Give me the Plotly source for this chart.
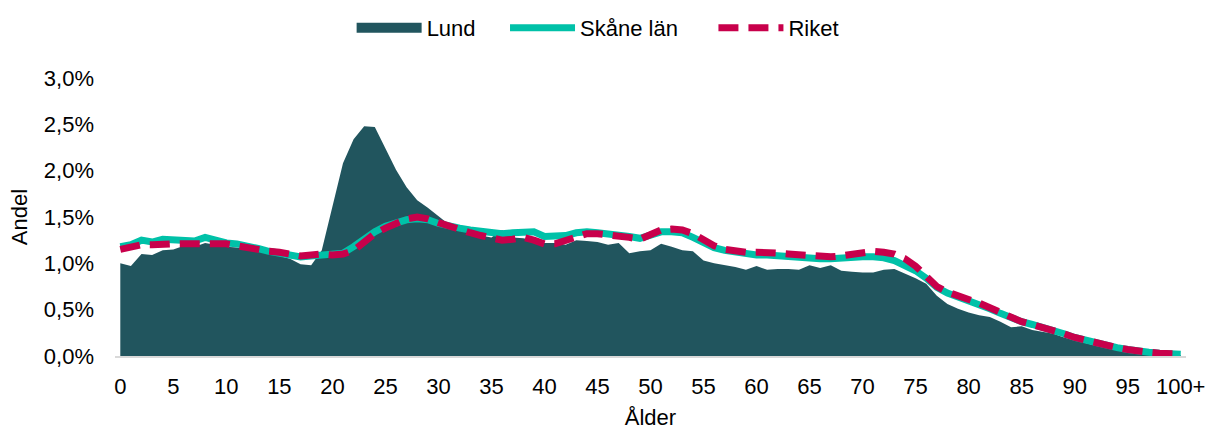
import plotly.graph_objects as go

ages = list(range(0, 101))
tick_vals = list(range(0, 101, 5))
tick_text = [str(v) for v in range(0, 100, 5)] + ["100+"]
y_tick_vals = [0, 0.5, 1.0, 1.5, 2.0, 2.5, 3.0]
y_tick_text = ["0,0%", "0,5%", "1,0%", "1,5%", "2,0%", "2,5%", "3,0%"]

lund = [1.00, 0.97, 1.10, 1.09, 1.14, 1.15, 1.19, 1.18, 1.22, 1.20,
        1.18, 1.17, 1.15, 1.13, 1.11, 1.08, 1.05, 0.99, 0.98, 1.14,
        1.62, 2.08, 2.34, 2.48, 2.47, 2.24, 2.01, 1.82, 1.68, 1.60,
        1.51, 1.42, 1.38, 1.33, 1.30, 1.28, 1.36, 1.28, 1.27, 1.25,
        1.22, 1.22, 1.20, 1.25, 1.24, 1.23, 1.20, 1.22, 1.11, 1.13,
        1.14, 1.21, 1.18, 1.14, 1.13, 1.03, 1.00, 0.98, 0.96, 0.93,
        0.97, 0.93, 0.94, 0.94, 0.93, 0.98, 0.95, 0.98, 0.92, 0.91,
        0.90, 0.90, 0.93, 0.94, 0.89, 0.84, 0.78, 0.65, 0.56, 0.51,
        0.47, 0.44, 0.42, 0.37, 0.31, 0.32, 0.28, 0.26, 0.24, 0.20,
        0.17, 0.14, 0.11, 0.09, 0.07, 0.05, 0.04, 0.03, 0.02, 0.01,
        0.01]

skane = [1.18, 1.20, 1.25, 1.23, 1.26, 1.25, 1.25, 1.24, 1.28, 1.25,
         1.22, 1.21, 1.19, 1.16, 1.13, 1.11, 1.09, 1.07, 1.08, 1.09,
         1.09, 1.11, 1.18, 1.27, 1.34, 1.40, 1.44, 1.47, 1.48, 1.47,
         1.43, 1.40, 1.38, 1.36, 1.35, 1.33, 1.32, 1.33, 1.33, 1.34,
         1.29, 1.29, 1.30, 1.33, 1.34, 1.33, 1.32, 1.31, 1.29, 1.27,
         1.30, 1.34, 1.34, 1.33, 1.28, 1.22, 1.17, 1.14, 1.12, 1.10,
         1.09, 1.09, 1.08, 1.07, 1.06, 1.05, 1.05, 1.05, 1.06, 1.06,
         1.07, 1.07, 1.06, 1.03, 0.98, 0.92, 0.84, 0.74, 0.68, 0.64,
         0.60, 0.56, 0.51, 0.46, 0.41, 0.37, 0.34, 0.31, 0.27, 0.24,
         0.20, 0.17, 0.14, 0.11, 0.09, 0.07, 0.05, 0.04, 0.03, 0.02,
         0.02]

riket = [1.15, 1.18, 1.20, 1.20, 1.21, 1.21, 1.21, 1.21, 1.22, 1.22,
         1.21, 1.19, 1.17, 1.14, 1.13, 1.12, 1.10, 1.08, 1.09, 1.10,
         1.09, 1.10, 1.14, 1.24, 1.32, 1.38, 1.44, 1.48, 1.50, 1.48,
         1.44, 1.40, 1.36, 1.33, 1.30, 1.27, 1.25, 1.26, 1.28, 1.25,
         1.21, 1.21, 1.25, 1.30, 1.32, 1.32, 1.31, 1.30, 1.28, 1.26,
         1.31, 1.36, 1.37, 1.36, 1.32, 1.25, 1.19, 1.15, 1.13, 1.12,
         1.12, 1.12, 1.11, 1.10, 1.09, 1.08, 1.07, 1.07, 1.08, 1.10,
         1.12, 1.13, 1.12, 1.10, 1.05, 0.97, 0.86, 0.75, 0.69, 0.64,
         0.61, 0.57, 0.52, 0.46, 0.41, 0.37, 0.34, 0.31, 0.27, 0.24,
         0.20, 0.17, 0.14, 0.11, 0.09, 0.07, 0.05, 0.04, 0.03, 0.02,
         0.02]

FONT = "Liberation Sans, Arial, sans-serif"
LUND_C = "#21555E"
SKANE_C = "#00C1A8"
RIKET_C = "#C8004B"
NB = "\u00a0"

fig = go.Figure()
fig.add_trace(go.Scatter(
    x=ages, y=lund, name="Lund", mode="lines", showlegend=False,
    line=dict(width=0, color=LUND_C),
    fill="tozeroy", fillcolor=LUND_C,
))
# legend entry for the Lund area (thick bar symbol)
fig.add_trace(go.Scatter(
    x=[None], y=[None], name="Lund" + NB * 4, mode="lines",
    line=dict(width=14, color=LUND_C),
))
fig.add_trace(go.Scatter(
    x=ages, y=skane, name="Skåne län" + NB * 5, mode="lines",
    line=dict(width=7, color=SKANE_C),
))
fig.add_trace(go.Scatter(
    x=ages, y=riket, name="Riket", mode="lines",
    line=dict(width=7, color=RIKET_C, dash="20px,10px"),
))

fig.update_layout(
    width=1211, height=430,
    margin=dict(l=115, r=25, t=78, b=74),
    paper_bgcolor="white", plot_bgcolor="white",
    font=dict(family=FONT, size=22, color="#000000"),
    showlegend=True,
    legend=dict(orientation="h", xref="container", yref="container",
                x=0.4935, xanchor="center", y=0.935, yanchor="middle",
                itemwidth=65, font=dict(size=22), traceorder="normal"),
    xaxis=dict(
        range=[-0.5, 100.5], tickmode="array", tickvals=tick_vals, ticktext=tick_text,
        showgrid=False, zeroline=False, showline=True, linecolor="#D9D9D9", linewidth=2,
        ticks="", ticklabelstandoff=10, automargin=False,
        title=dict(text="Ålder", font=dict(size=22), standoff=14),
    ),
    yaxis=dict(
        range=[0, 3.0], tickmode="array", tickvals=y_tick_vals, ticktext=y_tick_text,
        showgrid=False, zeroline=False, showline=False, ticks="",
        ticklabelstandoff=20, automargin=False,
        title=dict(text="Andel", font=dict(size=22), standoff=10),
    ),
)

fig.write_html("out.html", config={"displayModeBar": False},
               post_script="document.body.style.margin='0';")
